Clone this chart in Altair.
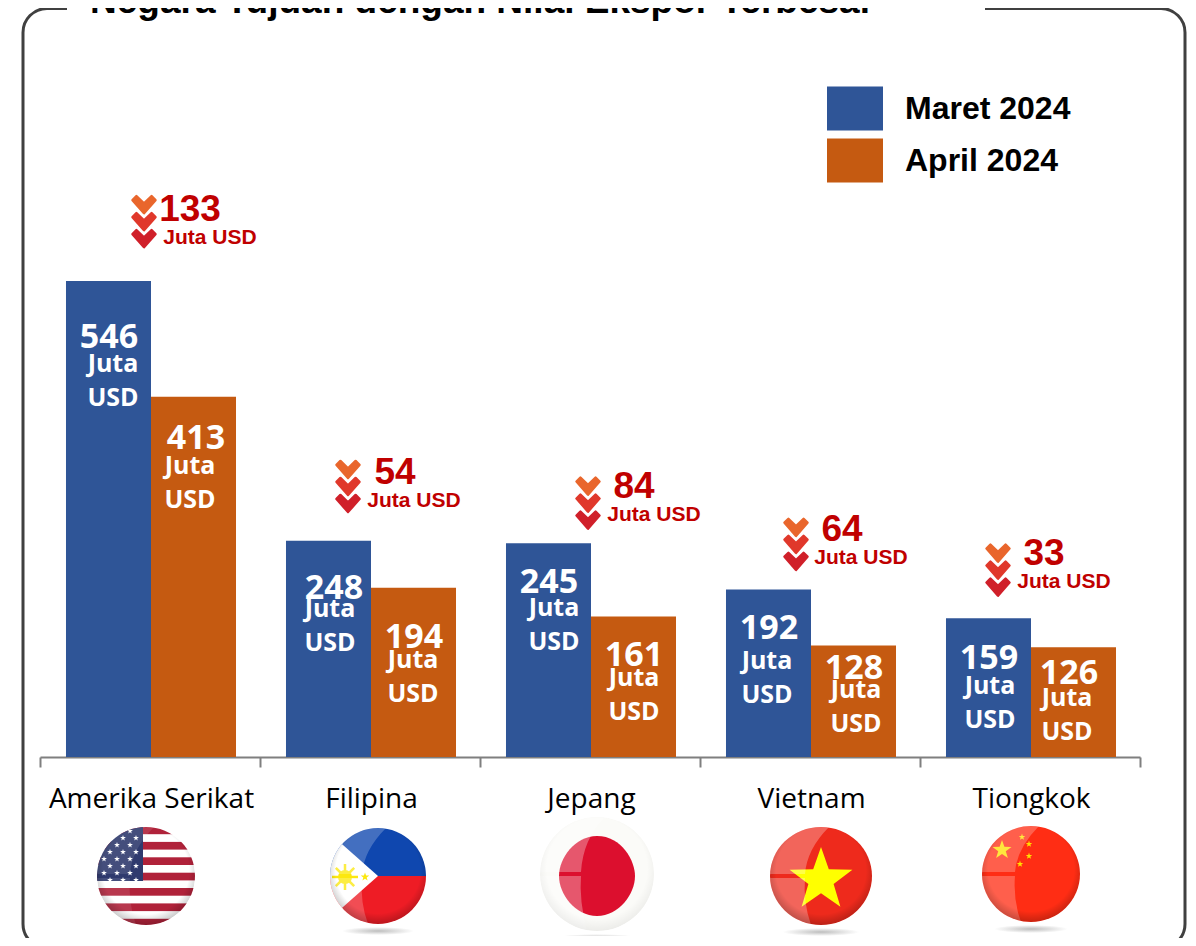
import base64
import math
import altair as alt
import pandas as pd

# ---------- data ----------
title_text = "Negara Tujuan dengan Nilai Ekspor Terbesar"
countries = ["Amerika Serikat", "Filipina", "Jepang", "Vietnam", "Tiongkok"]
periods = ["Maret 2024", "April 2024"]
march = [546, 248, 245, 192, 159]
april = [413, 194, 161, 128, 126]
drops = [133, 54, 84, 64, 33]

# ---------- styles / layout ----------
BLUE, ORANGE, RED = "#2F5597", "#C55A11", "#C00000"
SANS, ARIAL = "Open Sans", "Liberation Sans"
BASE = 757
PX = 0.872
H = BASE - 8
X0 = 40

x_scale = alt.Scale(domain=countries, paddingInner=0, paddingOuter=0)
y_scale = alt.Scale(domain=[0, H / PX], nice=False, zero=True)
off_scale = alt.Scale(domain=periods, paddingInner=0, paddingOuter=0.294, align=0.52)
X = alt.X("Negara:N", sort=countries, scale=x_scale, title=None,
          axis=alt.Axis(labelAngle=0, tickBand="extent", tickSize=10, tickWidth=2,
                        tickColor="#7F7F7F", domainColor="#7F7F7F", domainWidth=2,
                        labelFont=SANS, labelFontSize=28, labelColor="#000000", labelLimit=400,
                        labelPadding=32, labelBaseline="middle", labelOffset=1, grid=False))
Y = alt.Y("Nilai:Q", scale=y_scale, axis=None)
XO = alt.XOffset("Periode:N", sort=periods, scale=off_scale)

rows = []
for i, c in enumerate(countries):
    rows.append({"Negara": c, "Periode": periods[0], "Nilai": march[i]})
    rows.append({"Negara": c, "Periode": periods[1], "Nilai": april[i]})
df = pd.DataFrame(rows)

layers = []
dummy = pd.DataFrame({"a": [0]})

# card frame and the gap the title sits in
layers.append(alt.Chart(dummy).mark_rect(fillOpacity=0, stroke="#404040", strokeWidth=3,
                                         cornerRadius=24).encode(
    x=alt.value(23 - X0), x2=alt.value(1185 - X0), y=alt.value(0.5), y2=alt.value(948 - 8)))
layers.append(alt.Chart(dummy).mark_rule(color="#FFFFFF", strokeWidth=5).encode(
    x=alt.value(67 - X0), x2=alt.value(985 - X0), y=alt.value(0.5)))

# bars
layers.append(alt.Chart(df).mark_bar(width=alt.RelativeBandSize(band=1)).encode(
    x=X, xOffset=XO, y=Y,
    color=alt.Color("Periode:N", sort=periods,
                    scale=alt.Scale(domain=periods, range=[BLUE, ORANGE]),
                    legend=alt.Legend(title=None, orient="none", legendX=787, legendY=72.5,
                                      symbolType="M-1,-0.79H1V0.79H-1Z", symbolSize=3136,
                                      symbolStrokeWidth=0, symbolOpacity=1,
                                      labelFont=ARIAL, labelFontSize=32, labelFontWeight="bold",
                                      labelColor="#000000", labelOffset=22, rowPadding=1,
                                      labelLimit=300, columnPadding=0))))

# white labels inside the bars: (number dx, number dy, words dx, Juta dy, USD dy)
value_layout = {
    (0, 0): (0.5, 57, 4.5, 83, 117), (0, 1): (2.5, 42, -3.5, 69, 103),
    (1, 0): (5.5, 48, 1.5, 68, 102), (1, 1): (0.5, 50, -0.5, 72, 106),
    (2, 0): (0.5, 40, 5.5, 65, 99),  (2, 1): (0.5, 39, 0.5, 61, 95),
    (3, 0): (0.5, 39, -1.5, 71, 105), (3, 1): (0.5, 24, 2.5, 45, 79),
    (4, 0): (0.5, 41, 1.5, 68, 102), (4, 1): (-4.5, 27, -6.5, 51, 85),
}
for (ci, pi), (nx, ny, jx, jy, uy) in value_layout.items():
    v = (march if pi == 0 else april)[ci]
    row = pd.DataFrame({"Negara": [countries[ci]], "Periode": [periods[pi]], "Nilai": [v],
                        "Angka": [str(v)], "Juta": ["Juta"], "USD": ["USD"]})
    for field, size, ox, oy in (("Angka", 34, nx, ny), ("Juta", 25, jx, jy), ("USD", 25, jx, uy)):
        layers.append(alt.Chart(row).mark_text(font=SANS, fontWeight="bold", fontSize=size,
                                               color="#FFFFFF", baseline="middle", align="center",
                                               dx=ox, yOffset=oy).encode(
            x=X, xOffset=XO, y=Y, text=f"{field}:N"))

# drop annotations, offsets measured from the band centre and the March bar's top
drop_layout = [
    # chevron x, chevron y (centre of top chevron), number x, number y, unit x, unit y
    (-6, -76, 40, -71, 60, -43),
    (-22, -71, 25, -68, 44, -40),
    (-2, -57, 44, -56, 64, -28),
    (-14, -62, 32, -60, 51, -32),
    (-32, -65, 14, -64, 34, -36),
]
CHEVRON = "M-1,-0.42 L-0.66,-0.76 L0,-0.12 L0.66,-0.76 L1,-0.42 L0,0.72 Z"
chev_colors = ["#E9662C", "#E0382B", "#D0202A"]
for i, c in enumerate(countries):
    row = pd.DataFrame({"Negara": [c], "Nilai": [march[i]], "Turun": [str(drops[i])], "Unit": ["Juta USD"]})
    cx, cy, nx, ny, ux, uy = drop_layout[i]
    for k, col in enumerate(chev_colors):
        layers.append(alt.Chart(row).mark_point(shape=CHEVRON, size=529, filled=True, fill=col,
                                                opacity=1, stroke=col, strokeWidth=2.5,
                                                strokeJoin="round",
                                                xOffset=cx, yOffset=cy + 17 * k).encode(x=X, y=Y))
    layers.append(alt.Chart(row).mark_text(font=ARIAL, fontWeight="bold", fontSize=37, color=RED,
                                           baseline="middle", align="center",
                                           xOffset=nx, yOffset=ny).encode(x=X, y=Y, text="Turun:N"))
    layers.append(alt.Chart(row).mark_text(font=ARIAL, fontWeight="bold", fontSize=21, color=RED,
                                           baseline="middle", align="center",
                                           xOffset=ux, yOffset=uy).encode(x=X, y=Y, text="Unit:N"))


# ---------- glossy flag pictures ----------
def star(cx, cy, r, fill, rot=-90):
    pts = []
    for n in range(10):
        rad = r if n % 2 == 0 else r * 0.4
        a = math.radians(rot + 36 * n)
        pts.append(f"{cx + rad * math.cos(a):.1f},{cy + rad * math.sin(a):.1f}")
    return f'<polygon points="{" ".join(pts)}" fill="{fill}"/>'


def flag(rx, ry, art, cx=60, cy=58, shadow=True, gloss=0.28, rim=0.22):
    """art is drawn in a 120x120 box and clipped to the ellipse"""
    l, t, b = cx - rx, cy - ry, cy + ry
    g = (f'<path d="M{l},{cy - 2} L{cx - 16},{cy - 2} Q{cx - 14},{t + 22} {cx + 8},{t} L{l},{t} Z" fill="#fff" opacity="{gloss}"/>'
         f'<path d="M{l},{cy + 2} L{cx - 16},{cy + 2} Q{cx - 18},{cy + 26} {cx - 10},{b} L{l},{b} Z" fill="#fff" opacity="{gloss}"/>')
    sh = f'<ellipse cx="{cx}" cy="{b + 7}" rx="{rx * .75}" ry="4" fill="url(#s)"/>' if shadow else ""
    svg = (f'<svg xmlns="http://www.w3.org/2000/svg" width="120" height="120" viewBox="0 0 120 120">'
           f'<defs><clipPath id="c"><ellipse cx="{cx}" cy="{cy}" rx="{rx}" ry="{ry}"/></clipPath>'
           f'<radialGradient id="r" cx=".5" cy=".45" r=".55"><stop offset=".8" stop-color="#000" stop-opacity="0"/>'
           f'<stop offset="1" stop-color="#000" stop-opacity="{rim}"/></radialGradient>'
           f'<radialGradient id="s"><stop offset="0" stop-color="#888" stop-opacity=".55"/>'
           f'<stop offset="1" stop-color="#888" stop-opacity="0"/></radialGradient></defs>'
           f'{sh}<g clip-path="url(#c)">{art}{g}'
           f'<ellipse cx="{cx}" cy="{cy}" rx="{rx}" ry="{ry}" fill="url(#r)"/></g></svg>')
    return "data:image/svg+xml;base64," + base64.b64encode(svg.encode()).decode()


def us():
    a = '<rect width="120" height="120" fill="#fff"/>'
    y, h = 8.5, 100 / 13
    for n in range(13):
        if n % 2 == 0:
            a += f'<rect x="0" y="{y + n * h:.1f}" width="120" height="{h:.1f}" fill="#B0223A"/>'
    a += '<rect x="0" y="0" width="57" height="63" fill="#2F3A6E"/>'
    for r_, yy in enumerate(range(13, 63, 7)):
        for xx in range(18 + (r_ % 2) * 6, 56, 13):
            a += star(xx, yy, 3, "#fff")
    return a


def ph():
    a = '<rect width="120" height="58" fill="#0F47AF"/><rect y="58" width="120" height="62" fill="#EE1C25"/>'
    a += '<polygon points="0,5 60,58 0,111" fill="#fff"/>'
    for n in range(8):
        ang = math.radians(45 * n)
        a += (f'<line x1="27" y1="59" x2="{27 + 13 * math.cos(ang):.1f}" y2="{59 + 13 * math.sin(ang):.1f}" '
              f'stroke="#FCE80F" stroke-width="2.5"/>')
    a += '<circle cx="27" cy="59" r="7" fill="#FCE80F"/>' + star(47, 59, 4.5, "#FCE80F")
    return a


def jp():
    return ('<rect width="120" height="120" fill="#FBFBF8"/>'
            '<path d="M60,20 C85,20 98,45 98,60 C98,78 82,100 60,100 C38,100 22,78 22,60 C22,42 38,20 60,20 Z" fill="#DC0F2E"/>')


def vn():
    return '<rect width="120" height="120" fill="#EE2A1C"/>' + star(60, 62, 33, "#FFFF00")


def cn():
    return ('<rect width="120" height="120" fill="#FF2D14"/>' + star(31, 34, 10, "#FFE000")
            + star(51, 21, 3.5, "#FFE000") + star(58, 28, 3.5, "#FFE000")
            + star(58, 40, 3.5, "#FFE000") + star(49, 48, 3.5, "#FFE000"))


flags = [flag(49, 49, us(), shadow=False, gloss=0.1), flag(48, 48, ph(), gloss=0.22),
         flag(57, 57, jp(), gloss=0.3, rim=0.06), flag(51, 49, vn()), flag(49, 48, cn(), gloss=0.24)]
flag_offsets = [(-4, 877), (8, 877), (7, 875), (11, 877), (1, 875)]
for c, uri, (ox, py) in zip(countries, flags, flag_offsets):
    row = pd.DataFrame({"Negara": [c], "Bendera": [uri]})
    layers.append(alt.Chart(row).mark_image(width=120, height=120, xOffset=ox).encode(
        x=X, y=alt.value(py - 8 + 1), url="Bendera:N"))

# the reference's title is cut by the top edge of the picture: same baseline here
layers.append(alt.Chart(pd.DataFrame({"Judul": [title_text]})).mark_text(
    font=ARIAL, fontSize=37, fontWeight="bold", color="#000000", align="left",
    baseline="alphabetic").encode(x=alt.value(90 - X0), y=alt.value(13 - 8), text="Judul:N"))

chart = alt.layer(*layers).properties(
    width=1100, height=H,
    padding={"left": 32, "top": 0, "right": 48, "bottom": 181},
    autosize=alt.AutoSizeParams(type="none"),
    background="#FFFFFF",
).configure_view(stroke=None)

chart.save("out.html", embed_options={"renderer": "svg", "actions": False})
